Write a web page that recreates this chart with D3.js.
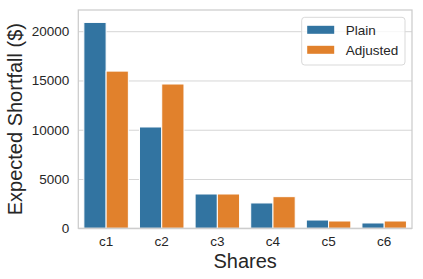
<!DOCTYPE html>
<html>
<head>
<meta charset="utf-8">
<script src="https://cdn.jsdelivr.net/npm/d3@7"></script>
<style>
  body { margin: 0; background: #fff; }
  text { font-family: "Liberation Sans", Arial, sans-serif; fill: #262626; }
</style>
</head>
<body>
<div id="my_dataviz"></div>
<script>
// data
var categories = ["c1", "c2", "c3", "c4", "c5", "c6"];
var seriesNames = ["Plain", "Adjusted"];
var plain = [20890, 10280, 3480, 2570, 840, 540];
var adjusted = [15950, 14640, 3480, 3210, 740, 740];
var yTicks = [0, 5000, 10000, 15000, 20000];
var colors = ["#3274a1", "#e1812c"];

var W = 423, H = 279;
var margin = {top: 10, right: 11, bottom: 50.7, left: 78.3},
    width = W - margin.left - margin.right,
    height = H - margin.top - margin.bottom;

var svg = d3.select("#my_dataviz")
  .append("svg")
    .attr("width", W)
    .attr("height", H)
  .append("g")
    .attr("transform", "translate(" + margin.left + "," + margin.top + ")");

var rows = categories.map(function(c, i) {
  return {cat: c, values: [plain[i], adjusted[i]]};
});

var x = d3.scaleBand()
  .domain(categories)
  .range([0, width])
  .paddingInner(0.2)
  .paddingOuter(0.1);

var x1 = d3.scaleBand()
  .domain(seriesNames)
  .range([0, x.bandwidth()])
  .padding(0);

var y = d3.scaleLinear()
  .domain([0, 22150])
  .range([height, 0]);

// grid lines
svg.append("g")
  .call(d3.axisLeft(y).tickValues(yTicks).tickSize(-width).tickFormat(""))
  .call(function(g) { g.select(".domain").remove(); })
  .selectAll(".tick line")
    .attr("stroke", "#d6d6d6")
    .attr("stroke-width", 1);

// bars
var groups = svg.selectAll(".grp")
  .data(rows)
  .enter()
  .append("g")
    .attr("transform", function(d) { return "translate(" + x(d.cat) + ",0)"; });

groups.selectAll("rect")
  .data(function(d) { return d.values.map(function(v, i) { return {key: seriesNames[i], v: v, i: i}; }); })
  .enter()
  .append("rect")
    .attr("x", function(d) { return x1(d.key); })
    .attr("y", function(d) { return y(d.v); })
    .attr("width", x1.bandwidth())
    .attr("height", function(d) { return height - y(d.v); })
    .attr("fill", function(d) { return colors[d.i]; })
    .attr("stroke", "#fff")
    .attr("stroke-width", 1);

// spines
svg.append("rect")
  .attr("x", 0).attr("y", 0)
  .attr("width", width).attr("height", height)
  .attr("fill", "none")
  .attr("stroke", "#cccccc")
  .attr("stroke-width", 1.25);

// y axis labels
var yAxis = svg.append("g")
  .call(d3.axisLeft(y).tickValues(yTicks).tickSize(0).tickPadding(9).tickFormat(d3.format("d")));
yAxis.select(".domain").remove();
yAxis.selectAll("text")
  .style("font-size", "13.5px")
  .style("font-family", "'Liberation Sans', Arial, sans-serif")
  .attr("fill", "#262626");

// x axis labels
var xAxis = svg.append("g")
  .attr("transform", "translate(0," + height + ")")
  .call(d3.axisBottom(x).tickSize(0).tickPadding(8));
xAxis.select(".domain").remove();
xAxis.selectAll("text")
  .style("font-size", "13.5px")
  .style("font-family", "'Liberation Sans', Arial, sans-serif")
  .attr("fill", "#262626");

// axis titles
svg.append("text")
  .attr("text-anchor", "middle")
  .attr("x", width / 2)
  .attr("y", height + 40)
  .style("font-size", "20px")
  .text("Shares");

svg.append("text")
  .attr("text-anchor", "middle")
  .attr("transform", "translate(" + (-56) + "," + (height / 2) + ") rotate(-90)")
  .style("font-size", "20px")
  .text("Expected Shortfall ($)");

// legend
var legend = svg.append("g")
  .attr("transform", "translate(" + (301.7 - margin.left) + "," + (17.3 - margin.top) + ")");
legend.append("rect")
  .attr("width", 103.3).attr("height", 47.7)
  .attr("rx", 3)
  .attr("fill", "#fff").attr("fill-opacity", 0.8)
  .attr("stroke", "#d9d9d9");
seriesNames.forEach(function(s, i) {
  legend.append("rect")
    .attr("x", 5.5).attr("y", 8.5 + i * 20)
    .attr("width", 27).attr("height", 8)
    .attr("fill", colors[i]);
  legend.append("text")
    .attr("x", 44).attr("y", 17.5 + i * 20)
    .style("font-size", "13.5px")
    .text(s);
});
</script>
</body>
</html>
